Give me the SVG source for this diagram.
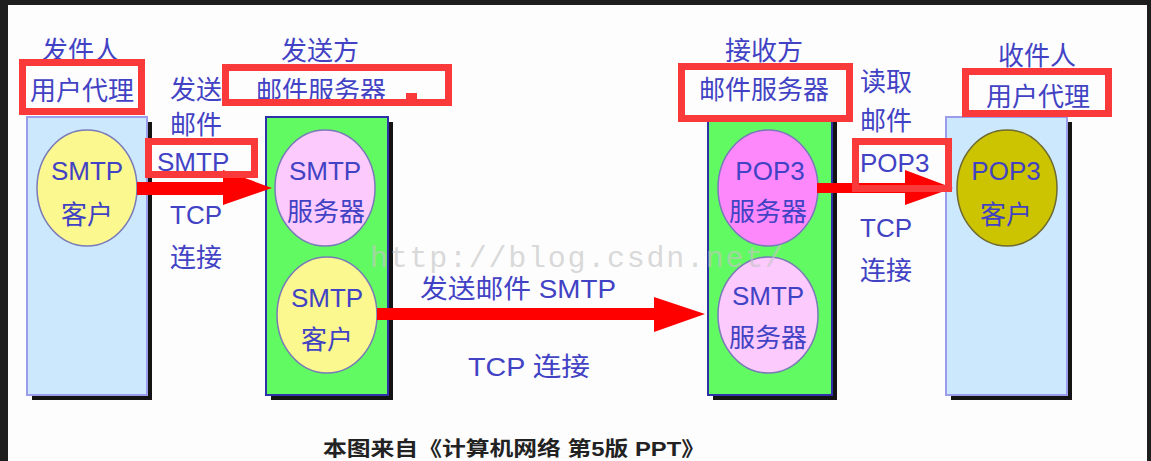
<svg xmlns="http://www.w3.org/2000/svg" width="1151" height="461" viewBox="0 0 1151 461">
<defs>
<style>
.t{font-family:"Liberation Sans","Noto Sans CJK SC",sans-serif;fill:#4242C4;font-size:26px}
.c{text-anchor:middle}
.ub{fill:#CBE8FC;stroke:#9C9CEC;stroke-width:2}
.gb{fill:#62FA62;stroke:#3030A8;stroke-width:2}
.sh{fill:#141414}
.el{stroke:#7A7AB8;stroke-width:1.5}
.rb{fill:none;stroke:#FA3A3A;stroke-width:7}
.ar{fill:#FF0000}
</style>
</defs>
<rect x="0" y="0" width="1151" height="461" fill="#1E1E1F"/>
<rect x="8" y="5" width="1139" height="456" fill="#FDFDFD"/>

<g id="sender-ua">
<rect class="sh" x="32" y="122" width="120" height="278"/>
<rect class="ub" x="27" y="117" width="120" height="278"/>
<ellipse class="el" cx="87" cy="188" rx="50" ry="58" fill="#FBF890"/>
<text class="t c" x="87" y="180" font-size="27">SMTP</text>
<text class="t c" x="87" y="224">客户</text>
</g>

<g id="sender-server">
<rect class="sh" x="271" y="122" width="122" height="278"/>
<rect class="gb" x="266" y="117" width="122" height="278"/>
<ellipse class="el" cx="325" cy="188" rx="50" ry="58" fill="#FCCAFC"/>
<text class="t c" x="325" y="180" font-size="27">SMTP</text>
<text class="t c" x="326" y="221">服务器</text>
<ellipse class="el" cx="327" cy="315" rx="50" ry="58" fill="#FBF890"/>
<text class="t c" x="327" y="307" font-size="27">SMTP</text>
<text class="t c" x="327" y="349">客户</text>
</g>

<g id="receiver-server">
<rect class="sh" x="713" y="122" width="124" height="278"/>
<rect class="gb" x="708" y="117" width="124" height="278"/>
<ellipse class="el" cx="768" cy="188" rx="50" ry="58" fill="#FC88FC"/>
<text class="t c" x="770" y="180" font-size="27">POP3</text>
<text class="t c" x="768" y="221">服务器</text>
<ellipse class="el" cx="768" cy="315" rx="50" ry="58" fill="#FCCAFC"/>
<text class="t c" x="768" y="305" font-size="27">SMTP</text>
<text class="t c" x="768" y="347">服务器</text>
</g>

<g id="receiver-ua">
<rect class="sh" x="951" y="122" width="121" height="278"/>
<rect class="ub" x="946" y="117" width="121" height="278"/>
<ellipse cx="1007" cy="188" rx="50" ry="58" fill="#CCC400" stroke="#6E6A30" stroke-width="1.5"/>
<text class="t c" x="1006" y="180" font-size="27">POP3</text>
<text class="t c" x="1006" y="224">客户</text>
</g>

<g id="watermark">
<text x="370" y="267" font-family="Liberation Mono,monospace" font-size="30" fill="#C4C4C4" fill-opacity="0.65" textLength="413" lengthAdjust="spacing">http://blog.csdn.net/</text>
</g>

<g id="connectors">
<polygon class="ar" points="137,182 223,182 223,170 272,188 223,205 223,195 137,195"/>
<polygon class="ar" points="817,183 905,183 905,170 953,188 905,205 905,193 817,193"/>
<polygon class="ar" points="377,308 654,308 654,297 705,314 654,332 654,320 377,320"/>
</g>

<g id="labels">
<text class="t c" x="81" y="60">发件人</text>
<text class="t c" x="82" y="100">用户代理</text>
<text class="t c" x="320" y="60">发送方</text>
<text class="t c" x="321" y="100">邮件服务器</text>
<text class="t" x="170" y="99">发送</text>
<text class="t" x="170" y="134">邮件</text>
<text class="t" x="157" y="171" font-size="27">SMTP</text>
<text class="t" x="170" y="224">TCP</text>
<text class="t" x="170" y="267">连接</text>
<text class="t c" x="764" y="60">接收方</text>
<text class="t c" x="764" y="99">邮件服务器</text>
<text class="t" x="860" y="91">读取</text>
<text class="t" x="860" y="130">邮件</text>
<text class="t" x="860" y="172" font-size="27">POP3</text>
<text class="t" x="860" y="237">TCP</text>
<text class="t" x="860" y="280">连接</text>
<text class="t c" x="1037" y="65">收件人</text>
<text class="t c" x="1038" y="106">用户代理</text>
<text class="t" x="420" y="298" font-size="26.5" textLength="196" lengthAdjust="spacingAndGlyphs">发送邮件 SMTP</text>
<text class="t" x="468" y="376" font-size="26.5" textLength="122" lengthAdjust="spacingAndGlyphs">TCP 连接</text>
<text x="323" y="456" font-family="Liberation Sans,Noto Sans CJK SC,sans-serif" font-weight="bold" font-size="20" fill="#222" textLength="382" lengthAdjust="spacingAndGlyphs">本图来自《计算机网络 第5版 PPT》</text>
</g>

<g id="highlights">
<rect class="rb" x="22.5" y="62.5" width="119" height="49"/>
<rect class="rb" x="225.5" y="67.5" width="223" height="35"/>
<rect x="406" y="93" width="11" height="7" fill="#FA3A3A"/>
<rect class="rb" x="148.5" y="141.5" width="106" height="33"/>
<rect class="rb" x="681.5" y="66.5" width="168" height="52"/>
<rect class="rb" x="855.5" y="141.5" width="93" height="47"/>
<rect class="rb" x="965.5" y="71.5" width="143" height="42"/>
</g>
</svg>
